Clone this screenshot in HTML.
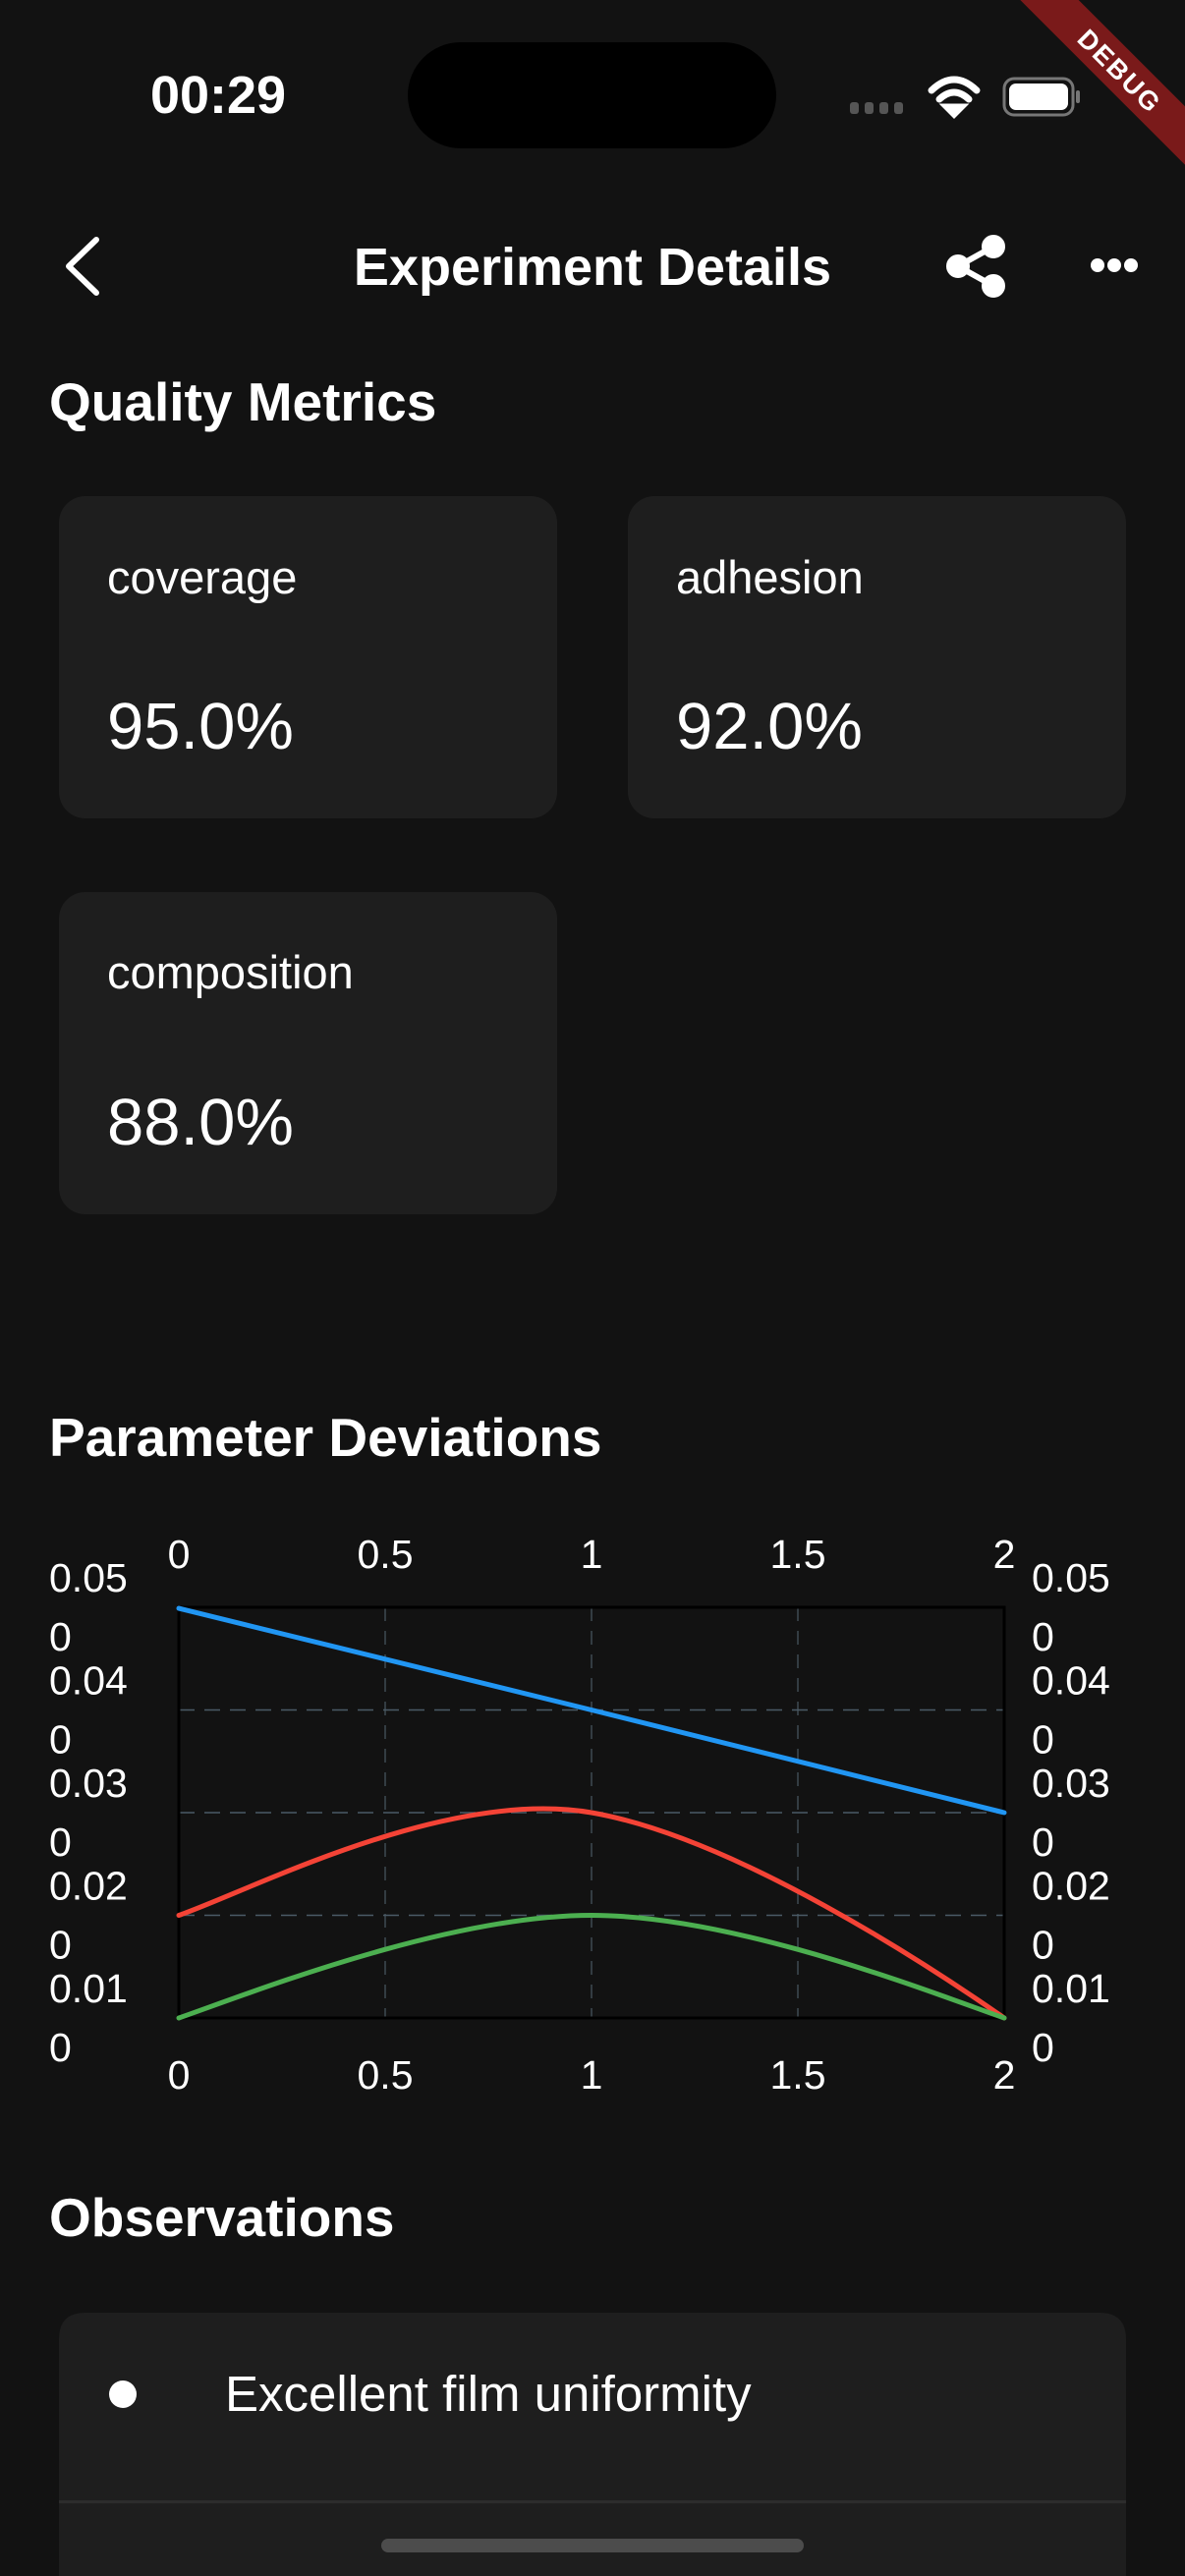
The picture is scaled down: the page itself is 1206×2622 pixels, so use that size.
<!DOCTYPE html>
<html><head><meta charset="utf-8"><style>
html,body{margin:0;padding:0;background:#121212;}
svg{display:block;font-family:"Liberation Sans",sans-serif;}
</style></head><body>
<svg id="page" width="1206" height="2622" viewBox="0 0 1206 2622" xmlns="http://www.w3.org/2000/svg">
<rect width="1206" height="2622" fill="#121212"/>
<!-- status bar -->
<text x="222" y="115" font-size="54" font-weight="bold" fill="#fff" text-anchor="middle">00:29</text>
<rect x="415" y="43" width="375" height="108" rx="54" fill="#000"/>
<g fill="#555">
<rect x="865" y="104" width="9" height="12" rx="3"/><rect x="880" y="104" width="9" height="12" rx="3"/><rect x="895" y="104" width="9" height="12" rx="3"/><rect x="910" y="104" width="9" height="12" rx="3"/></g>
<g fill="none" stroke="#fff" stroke-width="7" stroke-linecap="round">
<path d="M948 92 Q971 70 994 92"/><path d="M956 101 Q971 87 986 101"/><path d="M964 109 L971 116 L978 109 Z" fill="#fff"/></g>
<g>
<rect x="1022" y="80" width="70" height="37" rx="10" fill="none" stroke="#777" stroke-width="3"/>
<rect x="1027" y="85" width="60" height="27" rx="7" fill="#fff"/>
<rect x="1095" y="92" width="4" height="13" rx="2" fill="#777"/></g>
<!-- debug banner -->
<g transform="translate(1140,72) rotate(45)">
<rect x="-150" y="-21" width="300" height="42" fill="#7a1a1a"/>
<text x="0" y="10" font-size="27" font-weight="bold" fill="#fff" text-anchor="middle" letter-spacing="2">DEBUG</text></g>
<!-- app bar -->
<path d="M98 244 L70 271 L98 298" fill="none" stroke="#fff" stroke-width="6" stroke-linecap="round" stroke-linejoin="round"/>
<text x="603" y="290" font-size="54" font-weight="bold" fill="#fff" text-anchor="middle">Experiment Details</text>
<g fill="#fff" stroke="#fff" stroke-width="6">
<line x1="1011" y1="251" x2="975" y2="271"/><line x1="975" y1="271" x2="1011" y2="291"/>
<circle cx="1011" cy="251" r="9"/><circle cx="975" cy="271" r="9"/><circle cx="1011" cy="291" r="9"/></g>
<g fill="#fff">
<circle cx="1117" cy="270" r="7"/><circle cx="1134" cy="270" r="7"/><circle cx="1151" cy="270" r="7"/></g>
<!-- quality metrics -->
<text x="50" y="428" font-size="55" font-weight="bold" fill="#fff">Quality Metrics</text>
<g>
<rect x="60" y="505" width="507" height="328" rx="27" fill="#1e1e1e"/>
<text x="109" y="604" font-size="47" fill="#fff">coverage</text>
<text x="109" y="762" font-size="67" fill="#fff">95.0%</text></g>
<g>
<rect x="639" y="505" width="507" height="328" rx="27" fill="#1e1e1e"/>
<text x="688" y="604" font-size="47" fill="#fff">adhesion</text>
<text x="688" y="762" font-size="67" fill="#fff">92.0%</text></g>
<g>
<rect x="60" y="908" width="507" height="328" rx="27" fill="#1e1e1e"/>
<text x="109" y="1006" font-size="47" fill="#fff">composition</text>
<text x="109" y="1165" font-size="67" fill="#fff">88.0%</text></g>
<!-- chart -->
<text x="50" y="1482" font-size="55" font-weight="bold" fill="#fff">Parameter Deviations</text>
<g id="chart"></g>
<!-- observations -->
<text x="50" y="2276" font-size="55" font-weight="bold" fill="#fff">Observations</text>
<g>
<path d="M60 2622 L60 2381 Q60 2354 87 2354 L1119 2354 Q1146 2354 1146 2381 L1146 2622 Z" fill="#1e1e1e"/>
<circle cx="125" cy="2437" r="14" fill="#fff"/>
<text x="229" y="2454" font-size="51" fill="#fff">Excellent film uniformity</text>
<rect x="60" y="2545" width="1086" height="3" fill="#2c2c2c"/></g>
<rect x="388" y="2584" width="430" height="14" rx="7" fill="#4c4c4c"/>
</svg>
<script>
const xTicks=[0,0.5,1,1.5,2];
const xTickLabels=["0","0.5","1","1.5","2"];
const yTicks=[0.01,0.02,0.03,0.04,0.05];
const yTickLabels=["0.010","0.020","0.030","0.040","0.050"];
const xValues=[0,1,2];
const blueSeries=[0.0499,0.04,0.03];
const redSeries=[0.02,0.03,0.01];
const greenSeries=[0.01,0.02,0.01];

const NS="http://www.w3.org/2000/svg";
const g=document.getElementById('chart');
const L=182,R=1022,T=1636,B=2054;
const xMin=0,xMax=2,yMin=0.01,yMax=0.05;
function sx(v){return L+(v-xMin)/(xMax-xMin)*(R-L);}
function sy(v){return B-(v-yMin)/(yMax-yMin)*(B-T);}
function el(tag,attrs){const e=document.createElementNS(NS,tag);for(const k in attrs)e.setAttribute(k,attrs[k]);g.appendChild(e);return e;}
const bg=el('rect',{x:L,y:T,width:R-L,height:B-T,fill:'#121212'});


xTicks.forEach(function(t,i){
  if(t>xMin&&t<xMax){const ln=el('line',{x1:sx(t),x2:sx(t),y1:T,y2:B,stroke:'#3e4a52','stroke-width':1.5,'stroke-dasharray':'14 10'});
  
  }
  [1596,2126].forEach(function(yy){
    const tx=el('text',{x:sx(t),y:yy,'font-size':41,fill:'#fff','text-anchor':'middle'});
    tx.textContent=xTickLabels[i];
    
    
  });
});
yTicks.forEach(function(t,i){
  if(t>yMin&&t<yMax){const ln=el('line',{x1:L,x2:R,y1:sy(t),y2:sy(t),stroke:'#4a5a66','stroke-width':1.5,'stroke-dasharray':'16 10'});
  
  }
  const lab=yTickLabels[i];
  [50,1050].forEach(function(xx){
    const a=el('text',{x:xx,y:sy(t)-16,'font-size':41,fill:'#fff'});
    a.textContent=lab.slice(0,4);
    
    
    const b=el('text',{x:xx,y:sy(t)+44,'font-size':41,fill:'#fff'});
    b.textContent=lab.slice(4);
    
    
  });
});
const border=el('rect',{x:L,y:T,width:R-L,height:B-T,fill:'none',stroke:'#000','stroke-width':3});


function curve(vals){
  const p=vals.map(function(v,i){return [sx(xValues[i]),sy(v)];});
  let d='M'+p[0][0]+' '+p[0][1];
  const s=0.35;
  for(let i=0;i<p.length-1;i++){
    const p0=p[i-1]||p[i],p1=p[i],p2=p[i+1],p3=p[i+2]||p[i+1];
    const c1=[p1[0]+(p2[0]-p0[0])*s/2,p1[1]+(p2[1]-p0[1])*s/2*1.4];
    const c2=[p2[0]-(p3[0]-p1[0])*s/2,p2[1]-(p3[1]-p1[1])*s/2*1.4];
    d+=' C'+c1[0]+' '+c1[1]+' '+c2[0]+' '+c2[1]+' '+p2[0]+' '+p2[1];
  }
  return d;
}
function straight(vals){
  return vals.map(function(v,i){return (i?'L':'M')+sx(xValues[i])+' '+sy(v);}).join(' ');
}
[[straight(blueSeries),'#2196f3','series-blue-line'],[curve(redSeries),'#f44336','series-red-line'],[curve(greenSeries),'#4caf50','series-green-line']].forEach(function(s){
  const path=el('path',{d:s[0],fill:'none',stroke:s[1],'stroke-width':5,'stroke-linecap':'round'});
  
  
});
</script>
</body></html>
